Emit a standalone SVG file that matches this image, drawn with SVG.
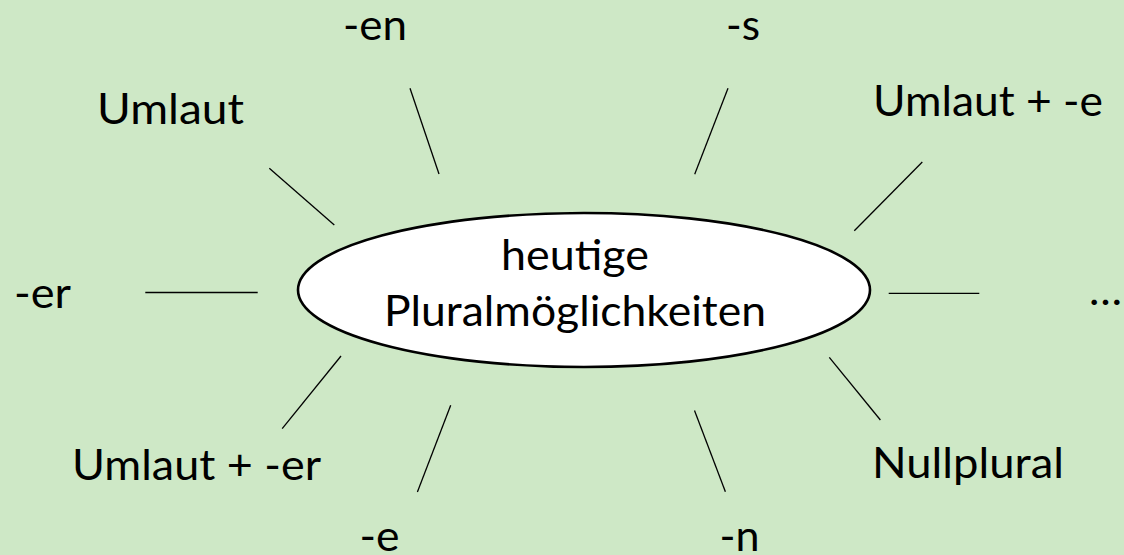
<svg xmlns="http://www.w3.org/2000/svg" width="1124" height="555" viewBox="0 0 1124 555">
  <style>
    .lbl { font-family: Lato, "Open Sans", "Liberation Sans", sans-serif; font-size: 42px; fill: #000000; }
    .conn line { stroke: #000000; stroke-width: 1.3; stroke-linecap: butt; }
    .center ellipse { fill: #ffffff; stroke: #000000; stroke-width: 2.6; }
  </style>
  <rect x="0" y="0" width="1124" height="555" fill="#cee8c6"/>

  <g id="connectors" class="conn">
    <line x1="269.3" y1="168.3" x2="334.3" y2="225"/>
    <line x1="410" y1="88.3" x2="439" y2="174"/>
    <line x1="728" y1="88.3" x2="694.7" y2="174.3"/>
    <line x1="922.3" y1="162" x2="854.3" y2="230.7"/>
    <line x1="145.3" y1="292.5" x2="257.7" y2="292.5"/>
    <line x1="888.7" y1="293.3" x2="979.3" y2="293.3"/>
    <line x1="341" y1="356" x2="282.2" y2="428.7"/>
    <line x1="450.7" y1="405.3" x2="417.4" y2="492"/>
    <line x1="694.5" y1="410.5" x2="725.4" y2="491.7"/>
    <line x1="829.3" y1="357.3" x2="880.4" y2="420"/>
  </g>

  <g id="center" class="center">
    <ellipse cx="584" cy="290" rx="286" ry="77"/>
    <text class="lbl" x="575" y="270" text-anchor="middle" textLength="148" lengthAdjust="spacingAndGlyphs">heutige</text>
    <text class="lbl" x="575" y="326" text-anchor="middle" textLength="382" lengthAdjust="spacingAndGlyphs">Pluralmöglichkeiten</text>
  </g>

  <g id="node-en"><text class="lbl" x="343" y="40" textLength="64" lengthAdjust="spacingAndGlyphs">-en</text></g>
  <g id="node-umlaut"><text class="lbl" x="97" y="124" textLength="147" lengthAdjust="spacingAndGlyphs">Umlaut</text></g>
  <g id="node-s"><text class="lbl" x="726" y="39.5" textLength="34" lengthAdjust="spacingAndGlyphs">-s</text></g>
  <g id="node-umlaut-e"><text class="lbl" x="873" y="116" textLength="230" lengthAdjust="spacingAndGlyphs">Umlaut + -e</text></g>
  <g id="node-er"><text class="lbl" x="14" y="307.7" textLength="57" lengthAdjust="spacingAndGlyphs">-er</text></g>
  <g id="node-more"><text class="lbl" x="1089" y="305" textLength="33" lengthAdjust="spacingAndGlyphs">…</text></g>
  <g id="node-umlaut-er"><text class="lbl" x="72" y="480" textLength="249" lengthAdjust="spacingAndGlyphs">Umlaut + -er</text></g>
  <g id="node-e"><text class="lbl" x="359.5" y="551" textLength="40" lengthAdjust="spacingAndGlyphs">-e</text></g>
  <g id="node-n"><text class="lbl" x="719.5" y="551" textLength="40" lengthAdjust="spacingAndGlyphs">-n</text></g>
  <g id="node-nullplural"><text class="lbl" x="872" y="478" textLength="192" lengthAdjust="spacingAndGlyphs">Nullplural</text></g>
</svg>
